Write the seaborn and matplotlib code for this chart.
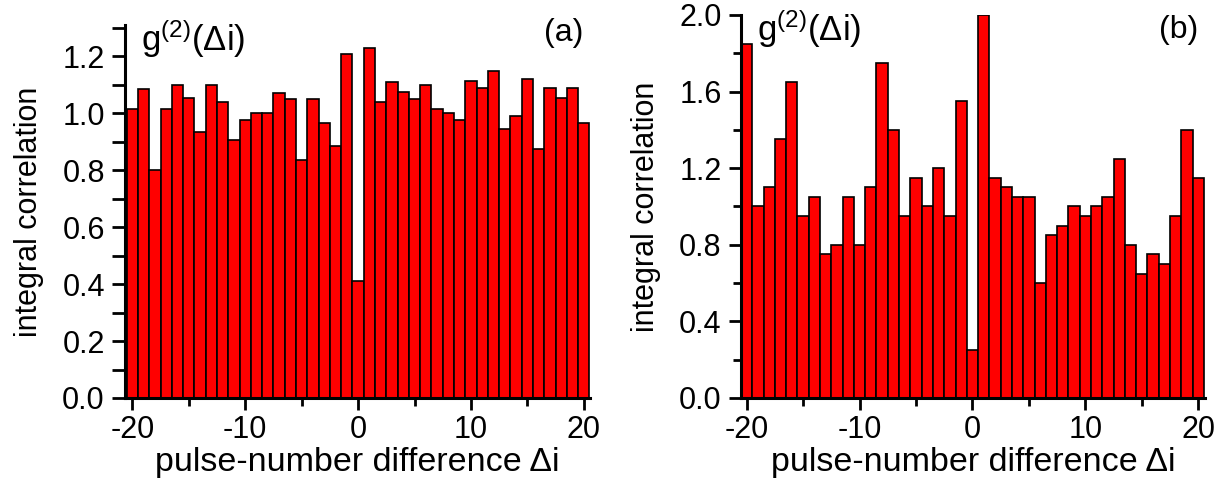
import matplotlib
matplotlib.use("Agg")
import matplotlib.pyplot as plt
import seaborn as sns
import numpy as np
from matplotlib.ticker import MultipleLocator

# pulse-number difference
delta_i = list(range(-20, 21))

# panel (a)
g2_a = [1.015, 1.085, 0.80, 1.015, 1.10, 1.055, 0.935, 1.10, 1.04, 0.905,
        0.975, 1.00, 1.00, 1.07, 1.05, 0.835, 1.05, 0.965, 0.885, 1.21,
        0.41, 1.23, 1.04, 1.11, 1.075, 1.05, 1.10, 1.015, 1.00, 0.975,
        1.115, 1.09, 1.15, 0.945, 0.99, 1.12, 0.875, 1.09, 1.055, 1.09,
        0.965]

# panel (b)
g2_b = [1.85, 1.00, 1.10, 1.35, 1.65, 0.95, 1.05, 0.75, 0.80, 1.05,
        0.80, 1.10, 1.75, 1.40, 0.95, 1.15, 1.00, 1.20, 0.95, 1.55,
        0.25, 2.00, 1.15, 1.10, 1.05, 1.05, 0.60, 0.85, 0.90, 1.00,
        0.95, 1.00, 1.05, 1.25, 0.80, 0.65, 0.75, 0.70, 0.95, 1.40,
        1.15]

sns.set_theme(style="ticks", rc={"text.color": "black", "axes.labelcolor": "black",
                                 "axes.edgecolor": "black", "xtick.color": "black",
                                 "ytick.color": "black"})
plt.rcParams['font.family'] = ['Liberation Sans', 'DejaVu Sans']
plt.rcParams['mathtext.fontset'] = 'custom'
plt.rcParams['mathtext.rm'] = 'Liberation Sans'
plt.rcParams['mathtext.it'] = 'Liberation Sans'

fig = plt.figure(figsize=(12.28, 4.9), dpi=100)
ax_a = fig.add_axes([0.1018, 0.1878, 0.3787, 0.761])
ax_b = fig.add_axes([0.6034, 0.1878, 0.3779, 0.7816])

panels = [(ax_a, g2_a, (-20.65, 20.55), 1.31, "(a)", 1.02),
          (ax_b, g2_b, (-20.5, 20.6), 2.0, "(b)", 1.0)]

for ax, vals, xl, ytop, tag, ty in panels:
    sns.barplot(x=delta_i, y=vals, ax=ax, native_scale=True, width=1.0,
                color="#ff0000", saturation=1, edgecolor="black", linewidth=1.2)
    ax.set_xlim(*xl)
    ax.set_ylim(0, ytop)
    sns.despine(ax=ax)
    for s in ["left", "bottom"]:
        ax.spines[s].set_linewidth(2.2)
    ax.set_xticks([-20, -10, 0, 10, 20])
    ax.set_xticklabels(["-20", "-10", "0", "10", "20"])
    ax.xaxis.set_minor_locator(MultipleLocator(5))
    ax.tick_params(axis="x", which="major", length=8.5, width=2, labelsize=22, pad=4)
    ax.tick_params(axis="x", which="minor", length=5.5, width=2)
    ax.set_xlabel("pulse-number difference \u0394i", fontsize=24.5, labelpad=1)
    ax.set_ylabel("integral correlation", fontsize=22, labelpad=13)
    ax.text(0.035, 1.02, "g$^{(2)}$(\u0394i)", transform=ax.transAxes,
            fontsize=25, ha="left", va="top")
    ax.text(0.985, ty, tag, transform=ax.transAxes,
            fontsize=23, ha="right", va="top")

# (a): ticks every 0.1, labels every 0.2, same length
ax_a.set_yticks(np.arange(0, 1.31, 0.1))
ax_a.set_yticklabels(["%.1f" % v if i % 2 == 0 else "" for i, v in
                      enumerate(np.arange(0, 1.31, 0.1))])
ax_a.tick_params(axis="y", length=9.5, width=2, labelsize=22, pad=5)

# (b): labels every 0.4, minor every 0.2
ax_b.set_yticks([0.0, 0.4, 0.8, 1.2, 1.6, 2.0])
ax_b.set_yticklabels(["0.0", "0.4", "0.8", "1.2", "1.6", "2.0"])
ax_b.yaxis.set_minor_locator(MultipleLocator(0.2))
ax_b.tick_params(axis="y", which="major", length=9, width=2, labelsize=22, pad=5)
ax_b.tick_params(axis="y", which="minor", length=5.5, width=2)

fig.savefig("out.png", dpi=100)
